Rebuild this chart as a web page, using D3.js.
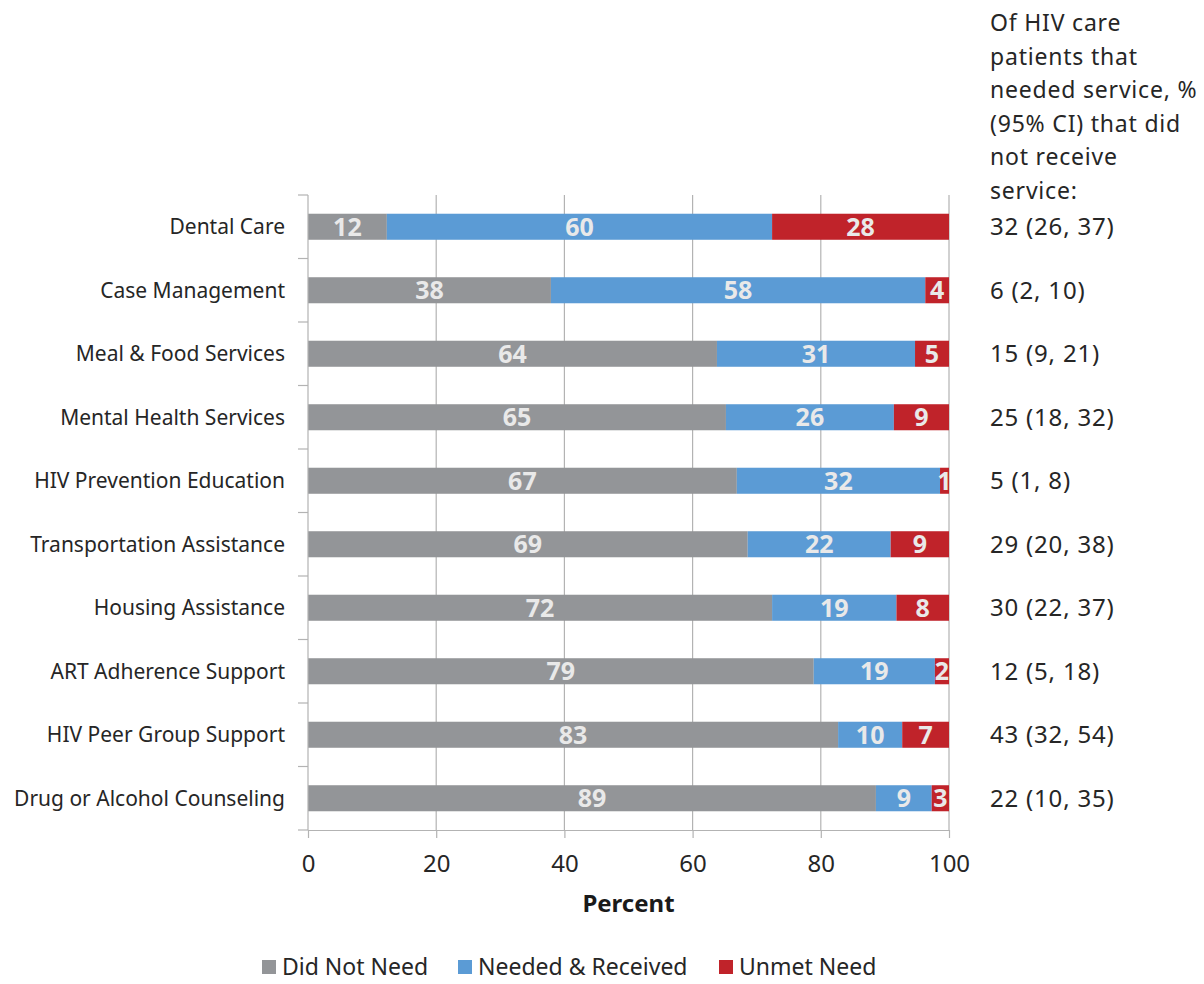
<!DOCTYPE html>
<html><head><meta charset="utf-8">
<script src="https://cdn.jsdelivr.net/npm/d3@7"></script>
<style>
body{margin:0;background:#fff;}
svg{display:block;}
</style></head>
<body><svg id="chart" width="1204" height="984"></svg>
<script>
const categories = ["Dental Care","Case Management","Meal & Food Services","Mental Health Services","HIV Prevention Education","Transportation Assistance","Housing Assistance","ART Adherence Support","HIV Peer Group Support","Drug or Alcohol Counseling"];
const didNotNeed = [12.3, 37.9, 63.8, 65.2, 66.9, 68.6, 72.4, 78.9, 82.7, 88.6];
const neededReceived = [60.1, 58.4, 30.9, 26.2, 31.7, 22.3, 19.4, 18.9, 10.0, 8.7];
const unmetNeed = [27.6, 3.7, 5.3, 8.6, 1.4, 9.1, 8.2, 2.2, 7.3, 2.7];
const unmetCI = ["32 (26, 37)","6 (2, 10)","15 (9, 21)","25 (18, 32)","5 (1, 8)","29 (20, 38)","30 (22, 37)","12 (5, 18)","43 (32, 54)","22 (10, 35)"];
const seriesNames = ["Did Not Need","Needed & Received","Unmet Need"];
const seriesColors = ["#939598","#5b9bd5","#c0232a"];
const xTicks = [0,20,40,60,80,100];
const headerLines = ["Of HIV care","patients that","needed service, %","(95% CI) that did","not receive","service:"];

(function(){
const svg = d3.select("#chart");
const font = "'Noto Sans', sans-serif";
const pL = 308, pR = 949, pT = 195, pB = 830;

const x = d3.scaleLinear().domain([0,100]).range([pL,pR]);
const y = d3.scaleBand().domain(categories).range([pT,pB]).paddingInner(0.59).paddingOuter(0.295);

// gridlines
svg.append("g").selectAll("line").data(xTicks.slice(1)).join("line")
  .attr("x1",d=>x(d)).attr("x2",d=>x(d)).attr("y1",pT).attr("y2",pB)
  .attr("stroke","#b3b3b3").attr("stroke-width",1.2);

// stacked data
const rows = categories.map((c,i)=>({cat:c, v:[didNotNeed[i],neededReceived[i],unmetNeed[i]]}));
const segs = [];
rows.forEach(r=>{let acc=0; r.v.forEach((v,k)=>{segs.push({cat:r.cat,k,x0:acc,x1:acc+v,v}); acc+=v;});});

const g = svg.append("g");
g.selectAll("rect").data(segs).join("rect")
  .attr("x",d=>x(d.x0)).attr("width",d=>x(d.x1)-x(d.x0))
  .attr("y",d=>y(d.cat)).attr("height",y.bandwidth())
  .attr("fill",d=>seriesColors[d.k]);

g.selectAll("text").data(segs).join("text")
  .attr("x",d=>(x(d.x0)+x(d.x1))/2).attr("y",d=>y(d.cat)+y.bandwidth()/2)
  .attr("dy","0.36em").attr("text-anchor","middle")
  .attr("font-family",font).attr("font-weight","bold").attr("font-size",25)
  .attr("fill","#e9e9e9")
  .text(d=>Math.round(d.v));

// y axis
const yAxis = svg.append("g");
yAxis.append("line").attr("x1",pL).attr("x2",pL).attr("y1",pT).attr("y2",pB).attr("stroke","#b3b3b3").attr("stroke-width",1.2);
const step = y.step();
yAxis.selectAll("line.tk").data(d3.range(categories.length+1)).join("line").attr("class","tk")
  .attr("x1",pL-10).attr("x2",pL).attr("y1",i=>pT+i*step).attr("y2",i=>pT+i*step)
  .attr("stroke","#b3b3b3").attr("stroke-width",1.2);
yAxis.selectAll("text").data(categories).join("text")
  .attr("x",285).attr("y",d=>y(d)+y.bandwidth()/2).attr("dy","0.36em")
  .attr("text-anchor","end").attr("font-family",font).attr("font-size",21).attr("fill","#262626")
  .text(d=>d);

// x axis
const xAxis = svg.append("g").attr("transform",`translate(0,${pB})`)
  .call(d3.axisBottom(x).tickValues(xTicks).tickSize(8).tickPadding(17).tickSizeOuter(0));
xAxis.select(".domain").attr("stroke","#b3b3b3").attr("stroke-width",1.2);
xAxis.selectAll(".tick line").attr("stroke","#b3b3b3").attr("stroke-width",1.2);
xAxis.selectAll(".tick text").attr("font-family",font).attr("font-size",24).attr("fill","#262626");

svg.append("text").attr("x",(pL+pR)/2).attr("y",912).attr("text-anchor","middle")
  .attr("font-family",font).attr("font-weight","bold").attr("font-size",24).attr("fill","#1a1a1a")
  .text("Percent");

// right column
svg.append("g").selectAll("text").data(headerLines).join("text")
  .attr("x",990).attr("y",(d,i)=>31+i*33.5)
  .attr("font-family",font).attr("font-size",23).attr("letter-spacing",0.8).attr("fill","#262626").text(d=>d);
svg.append("g").selectAll("text").data(categories).join("text")
  .attr("x",990).attr("y",d=>y(d)+y.bandwidth()/2).attr("dy","0.36em")
  .attr("font-family",font).attr("font-size",24).attr("letter-spacing",0.8).attr("fill","#262626")
  .text((d,i)=>unmetCI[i]);

// legend
const legendX = [262,458,719];
const lg = svg.append("g").selectAll("g").data(seriesNames).join("g")
  .attr("transform",(d,i)=>`translate(${legendX[i]},967)`);
lg.append("rect").attr("x",0).attr("y",-7).attr("width",14).attr("height",14).attr("fill",(d,i)=>seriesColors[i]);
lg.append("text").attr("x",20).attr("dy","0.36em").attr("font-family",font).attr("font-size",23).attr("fill","#262626").text(d=>d);
})();
</script></body></html>
